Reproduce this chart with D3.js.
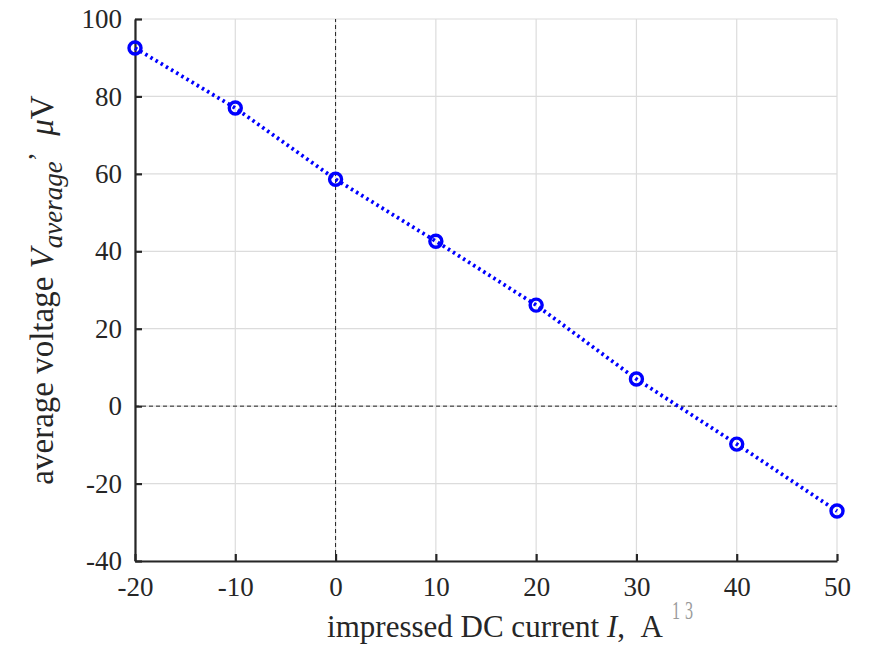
<!DOCTYPE html>
<html><head><meta charset="utf-8">
<script src="https://cdn.jsdelivr.net/npm/d3@7"></script>
<style>body{margin:0;background:#fff}svg{display:block}</style>
</head><body>
<script>
const currents = [-20, -10, 0, 10, 20, 30, 40, 50];
const voltages = [92.5, 77.0, 58.6, 42.6, 26.1, 7.0, -9.8, -27.1];
const xTicks = [-20, -10, 0, 10, 20, 30, 40, 50];
const yTicks = [-40, -20, 0, 20, 40, 60, 80, 100];

const W = 869, H = 646;
const m = {l: 135, r: 869 - 837, t: 19, b: 646 - 561};
const svg = d3.select("body").append("svg").attr("width", W).attr("height", H)
  .style("font-family", "'Liberation Serif', 'Times New Roman', serif");

const x = d3.scaleLinear().domain([-20, 50]).range([m.l, W - m.r]);
const y = d3.scaleLinear().domain([-40, 100]).range([H - m.b, m.t]);

// grid
const g = svg.append("g");
g.selectAll(".gx").data(xTicks).join("line")
  .attr("x1", d => x(d)).attr("x2", d => x(d)).attr("y1", y(-40)).attr("y2", y(100))
  .attr("stroke", "#dcdcdc").attr("stroke-width", 1.2);
g.selectAll(".gy").data(yTicks).join("line")
  .attr("y1", d => y(d)).attr("y2", d => y(d)).attr("x1", x(-20)).attr("x2", x(50))
  .attr("stroke", "#dcdcdc").attr("stroke-width", 1.2);

// zero lines
svg.append("line").attr("x1", x(0)).attr("x2", x(0)).attr("y1", y(-40)).attr("y2", y(100))
  .attr("stroke", "#222").attr("stroke-width", 1).attr("stroke-dasharray", "4,3");
svg.append("line").attr("y1", y(0)).attr("y2", y(0)).attr("x1", x(-20)).attr("x2", x(50))
  .attr("stroke", "#222").attr("stroke-width", 1).attr("stroke-dasharray", "4,3");

// axes
const fmt = d => String(d);
const xAxis = d3.axisBottom(x).tickValues(xTicks).tickFormat(fmt).tickSizeInner(-7).tickSizeOuter(0).tickPadding(16);
const yAxis = d3.axisLeft(y).tickValues(yTicks).tickFormat(fmt).tickSizeInner(-7).tickSizeOuter(0).tickPadding(13);
const gx = svg.append("g").attr("transform", `translate(0,${y(-40)})`).call(xAxis);
const gy = svg.append("g").attr("transform", `translate(${x(-20)},0)`).call(yAxis);
[gx, gy].forEach(a => {
  a.attr("font-size", null).attr("font-family", null);
  a.select(".domain").attr("stroke", "#262626").attr("stroke-width", 2.2);
  a.selectAll(".tick line").attr("stroke", "#262626").attr("stroke-width", 2.2);
  a.selectAll(".tick text").attr("fill", "#262626").style("font-size", "27px")
    .style("font-family", "'Liberation Serif', serif");
});
gx.selectAll(".tick text").attr("dy", "0.71em");

// line
const line = d3.line().x((d, i) => x(currents[i])).y(d => y(d));
svg.append("path").datum(voltages).attr("d", line).attr("fill", "none")
  .attr("stroke", "#0000ff").attr("stroke-width", 3.8).attr("stroke-dasharray", "2.5,3.5");
svg.selectAll(".pt").data(voltages).join("circle")
  .attr("cx", (d, i) => x(currents[i])).attr("cy", d => y(d)).attr("r", 6)
  .attr("fill", "none").attr("stroke", "#0000ff").attr("stroke-width", 3.4);

// x label
const xl = svg.append("text").attr("x", 495).attr("y", 637).attr("text-anchor", "middle")
  .attr("fill", "#262626").style("font-size", "31px");
xl.append("tspan").text("impressed DC current ");
xl.append("tspan").attr("font-style", "italic").text("I");
xl.append("tspan").text(",\u00a0\u00a0A");
const note = svg.append("text").attr("transform", "translate(672,619) scale(0.62,1)")
  .attr("fill", "#9a9a9a").style("font-size", "26px");
note.append("tspan").text("1");
note.append("tspan").attr("dx", 8).text("3");

// y label
const yl = svg.append("text").attr("transform", "translate(53,290) rotate(-90)")
  .attr("text-anchor", "middle").attr("fill", "#262626").style("font-size", "33px");
yl.append("tspan").text("average voltage ");
yl.append("tspan").attr("font-style", "italic").text("V");
yl.append("tspan").attr("font-style", "italic").attr("dy", 9).style("font-size", "27px").text("average");
yl.append("tspan").attr("dy", -15).style("font-size", "27px").text("’");
yl.append("tspan").attr("dy", 6).text("\u00a0\u00a0");
yl.append("tspan").attr("font-style", "italic").text("μ");
yl.append("tspan").text("V");
</script>
</body></html>
